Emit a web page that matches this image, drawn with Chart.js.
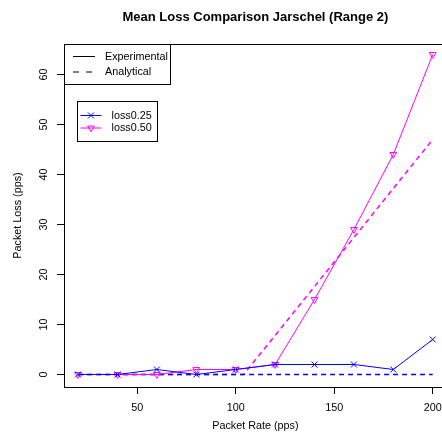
<!DOCTYPE html>
<html>
<head>
<meta charset="utf-8">
<title>Mean Loss Comparison Jarschel (Range 2)</title>
<script src="https://cdn.jsdelivr.net/npm/chart.js@4.4.0/dist/chart.umd.min.js"></script>
<style>
  html, body { margin: 0; padding: 0; background: #fff; overflow: hidden; }
  #wrap { width: 452px; height: 446px; }
</style>
</head>
<body>
<div id="wrap"><canvas id="lossChart" width="452" height="446"></canvas></div>
<script>
// Measured mean loss per packet rate
const rates = [20, 40, 60, 80, 100, 120, 140, 160, 180, 200];
const loss025 = [0, 0, 1, 0, 1, 2, 2, 2, 1, 7];
const loss050 = [0, 0, 0, 1, 1, 2, 15, 29, 44, 64];

// Analytical model curves
const analytic025Rates = [20, 40, 60, 80, 100, 120, 140, 160, 180, 200];
const analytic025 = [0, 0, 0, 0, 0, 0, 0, 0, 0, 0];
const analytic050Rates = [20, 104, 120, 140, 160, 180, 200];
const analytic050 = [0, 0, 7.8, 17.6, 27.4, 37.2, 47];

const xTicks = [50, 100, 150, 200];
const yTicks = [0, 10, 20, 30, 40, 50, 60];

const FONT = '"Liberation Sans", Arial, Helvetica, sans-serif';
const BLUE = '#0000ff';
const MAGENTA = '#ff00ff';

const pts = (xs, ys) => xs.map((x, i) => ({ x: x, y: ys[i] }));

// box, rotated y labels, main title and the two legends
const plotDecor = {
  id: 'plotDecor',
  afterDraw(chart) {
    const { ctx, chartArea: a, scales: { y } } = chart;
    ctx.save();
    ctx.strokeStyle = '#000';
    ctx.lineWidth = 1;
    ctx.strokeRect(Math.round(a.left) + 0.5, Math.round(a.top) + 0.5,
      Math.round(a.right - a.left), Math.round(a.bottom - a.top));

    ctx.fillStyle = '#000';
    ctx.font = '10.8px ' + FONT;
    ctx.textAlign = 'center';
    ctx.textBaseline = 'middle';
    y.ticks.forEach(t => {
      ctx.save();
      ctx.translate(44, y.getPixelForValue(t.value));
      ctx.rotate(-Math.PI / 2);
      ctx.fillText(String(t.value), 0, 0);
      ctx.restore();
    });

    ctx.font = 'bold 13px ' + FONT;
    ctx.fillText('Mean Loss Comparison Jarschel (Range 2)', (a.left + a.right) / 2, 17.5);

    // line type legend
    const l1 = { x: a.left, y: a.top };
    ctx.strokeRect(Math.round(l1.x) + 0.5, Math.round(l1.y) + 0.5, 106, 40);
    ctx.beginPath();
    ctx.moveTo(l1.x + 9, l1.y + 12.5);
    ctx.lineTo(l1.x + 31, l1.y + 12.5);
    ctx.stroke();
    ctx.setLineDash([6, 7]);
    ctx.beginPath();
    ctx.moveTo(l1.x + 9, l1.y + 28);
    ctx.lineTo(l1.x + 31, l1.y + 28);
    ctx.stroke();
    ctx.setLineDash([]);
    ctx.font = '10.8px ' + FONT;
    ctx.textAlign = 'left';
    ctx.fillText('Experimental', l1.x + 41, l1.y + 13);
    ctx.fillText('Analytical', l1.x + 41, l1.y + 28);

    // series legend
    const l2 = { x: 77, y: 101 };
    ctx.strokeRect(l2.x + 0.5, l2.y + 0.5, 80, 40);
    const rows = [
      { label: 'loss0.25', color: BLUE, style: 'crossRot', radius: 4.2, rot: 0, dy: 14.5 },
      { label: 'loss0.50', color: MAGENTA, style: 'triangle', radius: 3.9, rot: 180, dy: 27 }
    ];
    rows.forEach(r => {
      ctx.strokeStyle = r.color;
      ctx.beginPath();
      ctx.moveTo(l2.x + 3.5, l2.y + r.dy);
      ctx.lineTo(l2.x + 24.5, l2.y + r.dy);
      ctx.stroke();
      ctx.fillStyle = 'rgba(0,0,0,0)';
      Chart.helpers.drawPoint(ctx, { pointStyle: r.style, radius: r.radius, rotation: r.rot, borderWidth: 1 },
        l2.x + 14, l2.y + r.dy);
      ctx.fillStyle = '#000';
      ctx.fillText(r.label, l2.x + 34.5, l2.y + r.dy + 0.5);
    });
    ctx.restore();
  }
};

const axisGrid = { drawOnChartArea: false, drawTicks: true, tickLength: 7, color: '#000', lineWidth: 1 };

new Chart(document.getElementById('lossChart'), {
  type: 'line',
  data: {
    datasets: [
      {
        label: 'loss0.25',
        data: pts(rates, loss025),
        borderColor: BLUE,
        borderWidth: 1,
        pointStyle: 'crossRot',
        pointRadius: 4.2,
        pointBorderColor: BLUE,
        pointBorderWidth: 1
      },
      {
        label: 'loss0.50',
        data: pts(rates, loss050),
        borderColor: MAGENTA,
        borderWidth: 1,
        pointStyle: 'triangle',
        pointRotation: 180,
        pointRadius: 3.9,
        pointBorderColor: MAGENTA,
        pointBackgroundColor: 'rgba(0,0,0,0)',
        pointBorderWidth: 1
      },
      {
        label: 'loss0.25 analytical',
        data: pts(analytic025Rates, analytic025),
        borderColor: BLUE,
        borderWidth: 1.5,
        borderDash: [5, 4],
        pointRadius: 0
      },
      {
        label: 'loss0.50 analytical',
        data: pts(analytic050Rates, analytic050),
        borderColor: MAGENTA,
        borderWidth: 1.5,
        borderDash: [5, 4],
        pointRadius: 0
      }
    ]
  },
  options: {
    responsive: false,
    animation: false,
    events: [],
    layout: { padding: { top: 44, right: 4.6, bottom: 0, left: 0 } },
    plugins: {
      legend: { display: false },
      tooltip: { enabled: false },
      title: { display: false }
    },
    scales: {
      x: {
        type: 'linear',
        min: 12.85,
        max: 207.15,
        afterBuildTicks: s => { s.ticks = xTicks.map(v => ({ value: v })); },
        afterFit: s => { s.height = 59; },
        grid: axisGrid,
        border: { display: false },
        ticks: { color: '#000', font: { family: FONT, size: 10.8 }, padding: 7.5, maxRotation: 0, autoSkip: false },
        title: { display: true, text: 'Packet Rate (pps)', color: '#000',
          font: { family: FONT, size: 10.8 }, padding: { top: 0, bottom: 13.8 } }
      },
      y: {
        type: 'linear',
        min: -2.5,
        max: 66.1,
        afterBuildTicks: s => { s.ticks = yTicks.map(v => ({ value: v })); },
        afterFit: s => { s.width = 64; },
        grid: axisGrid,
        border: { display: false },
        ticks: { display: false },
        title: { display: true, text: 'Packet Loss (pps)', color: '#000',
          font: { family: FONT, size: 10.8 }, padding: { top: 11.5, bottom: 0 } }
      }
    }
  },
  plugins: [plotDecor]
});
</script>
</body>
</html>
